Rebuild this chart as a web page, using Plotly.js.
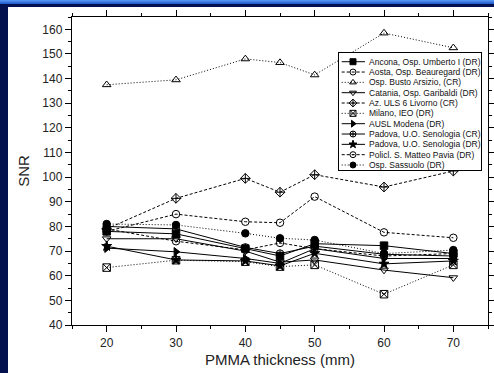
<!DOCTYPE html>
<html>
<head>
<meta charset="utf-8">
<script src="https://cdn.plot.ly/plotly-3.0.1.min.js"></script>
<style>
  html, body { margin:0; padding:0; width:494px; height:373px; overflow:hidden; background:#03124f; }
  #topbar { position:absolute; left:0; top:0; width:494px; height:4px; background:linear-gradient(#5a9af5,#1d56c8); }
  #chart { position:absolute; left:8px; top:7px; width:486px; height:366px; background:#fff; }
</style>
</head>
<body>
<div id="topbar"></div>
<div id="chart"></div>
<script>
// ---- data ----
const thickness = [20, 30, 40, 45, 50, 60, 70];
const seriesNames = [
  "Ancona, Osp. Umberto I (DR)",
  "Aosta, Osp. Beauregard (DR)",
  "Osp. Busto Arsizio, (CR)",
  "Catania, Osp. Garibaldi (DR)",
  "Az. ULS 6 Livorno (CR)",
  "Milano, IEO (DR)",
  "AUSL Modena (DR)",
  "Padova, U.O. Senologia (CR)",
  "Padova, U.O. Senologia (DR)",
  "Policl. S. Matteo Pavia (DR)",
  "Osp. Sassuolo (DR)"
];
const ancona   = [78.0, 77.0, 71.0, 68.0, 73.0, 72.2, 69.0];
const aosta    = [78.0, 85.0, 81.9, 81.5, 92.1, 77.6, 75.4];
const busto    = [137.5, 139.5, 148.0, 146.5, 141.5, 158.5, 152.5];
const catania  = [75.0, 75.0, 70.0, 65.5, 66.4, 62.3, 59.2];
const livorno  = [79.0, 91.4, 99.5, 93.9, 101.0, 96.0, 102.5];
const milano   = [63.3, 66.3, 65.7, 63.7, 64.4, 52.5, 64.4];
const modena   = [71.2, 69.7, 67.0, 65.0, 71.0, 67.0, 67.0];
const padovaCR = [80.0, 79.0, 71.5, 69.0, 72.0, 68.7, 68.0];
const padovaDR = [72.0, 66.4, 66.0, 64.0, 69.1, 64.8, 66.0];
const pavia    = [79.0, 74.0, 70.5, 73.3, 71.0, 68.0, 69.0];
const sassuolo = [81.0, 80.6, 77.2, 75.2, 74.5, 69.0, 70.4];
const xTicks = [20, 30, 40, 50, 60, 70];
const yTicks = [40, 50, 60, 70, 80, 90, 100, 110, 120, 130, 140, 150, 160];

const allValues = [ancona, aosta, busto, catania, livorno, milano, modena, padovaCR, padovaDR, pavia, sassuolo];

// ---- styles ----
const DASH = "3px,2px", DOT = "1px,2px";
const styles = [
  {dash:"solid", symbol:"square"},
  {dash:DASH,   symbol:"circle-open"},
  {dash:DOT,    symbol:"triangle-up-open"},
  {dash:"solid", symbol:"triangle-down-open"},
  {dash:DASH,   symbol:"diamond-cross-open"},
  {dash:DOT,    symbol:"square-x-open"},
  {dash:"solid", symbol:"triangle-right"},
  {dash:"solid", symbol:"circle-cross-open"},
  {dash:"solid", symbol:"star"},
  {dash:DASH,   symbol:"circle-open-dot"},
  {dash:DOT,    symbol:"circle"}
];

const traces = [];
allValues.forEach((vals, i) => {
  traces.push({
    type:"scatter", mode:"lines+markers", name:seriesNames[i],
    x:thickness, y:vals, showlegend:false,
    line:{color:"#000", width:1, dash:styles[i].dash},
    marker:{symbol:styles[i].symbol, size:7.5, color:"#000", line:{color:"#000", width:1}},
    cliponaxis:false
  });
});

// ---- manual compact legend on auxiliary axes (1 unit = 1 px) ----
const rowY0 = 8.7, rowStep = 10.33;
const annotations = [];
seriesNames.forEach((nm, i) => {
  const y = rowY0 + i*rowStep;
  traces.push({
    type:"scatter", mode:"lines+markers", xaxis:"x2", yaxis:"y2", showlegend:false, hoverinfo:"skip",
    x:[2.7, 14, 26], y:[y, y, y],
    line:{color:"#000", width:1, dash:styles[i].dash},
    marker:{symbol:styles[i].symbol, size:6, color:"#000", opacity:[0,1,0], line:{color:"#000", width:1}}
  });
  annotations.push({
    xref:"x2", yref:"y2", x:28, y:y, text:nm, showarrow:false,
    xanchor:"left", yanchor:"middle",
    font:{family:"Liberation Sans, Arial, sans-serif", size:8.5, color:"#111"}
  });
});

const axisCommon = {
  showline:true, linecolor:"#000", linewidth:1.2, mirror:"allticks",
  ticks:"outside", ticklen:6, tickwidth:1, tickcolor:"#000",
  showgrid:false, zeroline:false,
  tickfont:{family:"Liberation Sans, Arial, sans-serif", size:12, color:"#222"},
  minor:{ticks:"outside", ticklen:3, tickwidth:1, tickcolor:"#000", dtick:5, showgrid:false}
};

const layout = {
  width:486, height:366,
  margin:{l:64, r:6, t:10, b:48},
  paper_bgcolor:"#fff", plot_bgcolor:"#fff",
  showlegend:false,
  font:{family:"Liberation Sans, Arial, sans-serif", color:"#222"},
  xaxis: Object.assign({}, axisCommon, {
    range:[15, 75], tickmode:"array", tickvals:xTicks, automargin:"bottom",
    title:{text:"PMMA thickness (mm)", font:{size:15, color:"#222"}, standoff:6}
  }),
  yaxis: Object.assign({}, axisCommon, {
    range:[40, 165], tickmode:"array", tickvals:yTicks, automargin:"left",
    title:{text:"SNR", font:{size:15, color:"#222"}, standoff:9}
  }),
  xaxis2:{domain:[0.6418, 0.9832], range:[0, 142], anchor:"y2",
    showline:true, mirror:true, linecolor:"#000", linewidth:1,
    showticklabels:false, ticks:"", showgrid:false, zeroline:false, fixedrange:true},
  yaxis2:{domain:[0.5032, 0.8831], range:[117, 0], anchor:"x2",
    showline:true, mirror:true, linecolor:"#000", linewidth:1,
    showticklabels:false, ticks:"", showgrid:false, zeroline:false, fixedrange:true},
  shapes:[{type:"rect", xref:"x2", yref:"y2", x0:0, x1:142, y0:0, y1:117,
    fillcolor:"#fff", line:{width:0}, layer:"below"}],
  annotations: annotations
};

Plotly.newPlot("chart", traces, layout, {displayModeBar:false, staticPlot:true});
</script>
</body>
</html>
